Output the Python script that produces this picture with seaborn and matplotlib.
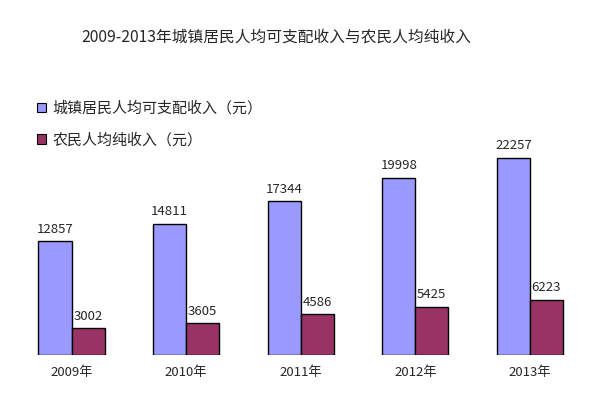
import matplotlib
matplotlib.use("Agg")
import matplotlib.pyplot as plt
import seaborn as sns
import pandas as pd

# data
years = ["2009年", "2010年", "2011年", "2012年", "2013年"]
urban_income = [12857, 14811, 17344, 19998, 22257]
rural_income = [3002, 3605, 4586, 5425, 6223]
series_names = ["城镇居民人均可支配收入（元）", "农民人均纯收入（元）"]
colors = ["#9999FF", "#993366"]

title = "2009-2013年城镇居民人均可支配收入与农民人均纯收入"

df = pd.DataFrame({
    "year": years * 2,
    "value": urban_income + rural_income,
    "series": [series_names[0]] * len(years) + [series_names[1]] * len(years),
})

sns.set_style("white")
plt.rcParams["font.family"] = ["Noto Sans CJK SC", "DejaVu Sans"]

W, H = 594, 397
fig = plt.figure(figsize=(W / 100, H / 100), dpi=100)
# axes placed in pixel terms: baseline at y=355, top at y=60
ax = fig.add_axes([0, (H - 355) / H, 1, (355 - 60) / H])

sns.barplot(data=df, x="year", y="value", hue="series", palette=colors,
            saturation=1, width=0.576, gap=0, edgecolor="black", linewidth=1,
            ax=ax, legend=False)

# scale: 1 group = 114.6 px, first group centre at x=71.5
xs = 114.6
ax.set_xlim(-71.5 / xs, (W - 71.5) / xs)
ax.set_ylim(0, 295 / 0.00886)

for cont in ax.containers:
    ax.bar_label(cont, padding=4, fontsize=9.5)

for s in ax.spines.values():
    s.set_visible(False)
ax.set_yticks([])
ax.set_xlabel("")
ax.set_ylabel("")
ax.tick_params(axis="x", length=0, pad=8, labelsize=9.5)

# legend in the upper-left, square markers
handles = [plt.Rectangle((0, 0), 1, 1, facecolor=c, edgecolor="black", linewidth=0.8)
           for c in colors]
fig.legend(handles, series_names, loc="upper left",
           bbox_to_anchor=(37 / W, 1 - 101 / H), frameon=False,
           fontsize=10.8, handlelength=0.62, handleheight=0.62,
           handletextpad=0.4, labelspacing=1.15, borderpad=0, borderaxespad=0)

fig.text(276 / W, 1 - 37 / H, title, ha="center", va="center", fontsize=11.3)

fig.savefig("out.png", dpi=100)
